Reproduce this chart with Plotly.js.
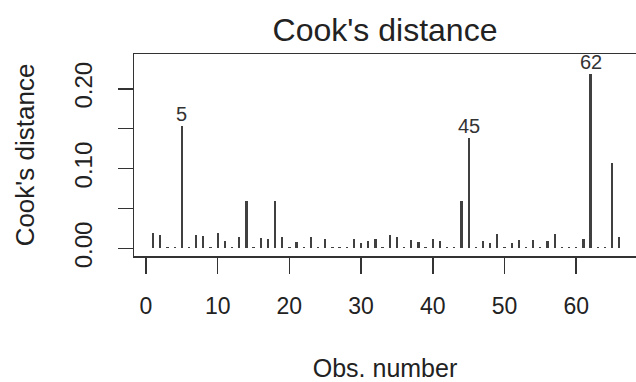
<!DOCTYPE html>
<html>
<head>
<meta charset="utf-8">
<script src="https://cdn.plot.ly/plotly-3.0.1.min.js"></script>
<style>html,body{margin:0;padding:0;background:#fff;}#chart{width:636px;height:382px;}</style>
</head>
<body>
<div id="chart"></div>
<script>
const obs = [];
for (let i = 1; i <= 66; i++) obs.push(i);
const cook = [
  0.019, 0.0165, 0.002, 0.002, 0.153, 0.002, 0.017, 0.0155, 0.002, 0.019,
  0.009, 0.002, 0.014, 0.0595, 0.002, 0.013, 0.012, 0.0595, 0.014, 0.002,
  0.008, 0.002, 0.0145, 0.002, 0.012, 0.002, 0.002, 0.002, 0.012, 0.007,
  0.010, 0.012, 0.002, 0.017, 0.015, 0.002, 0.011, 0.008, 0.002, 0.012,
  0.010, 0.002, 0.002, 0.0595, 0.139, 0.002, 0.009, 0.007, 0.0185, 0.002,
  0.0065, 0.011, 0.002, 0.0105, 0.002, 0.009, 0.0185, 0.002, 0.002, 0.002,
  0.012, 0.219, 0.002, 0.002, 0.107, 0.0145
];
const labelledObs = [5, 45, 62];
const xTickVals = [0, 10, 20, 30, 40, 50, 60];
const xTickText = ['0', '10', '20', '30', '40', '50', '60'];
const yTickVals = [0, 0.05, 0.10, 0.15, 0.20];
const yTickText = ['0.00', '', '0.10', '', '0.20'];

const ink = '#333333';
const font = 'Liberation Sans, Arial, sans-serif';

const trace = {
  type: 'bar',
  x: obs,
  y: cook,
  width: 0.32,
  marker: {color: '#404040', line: {width: 0}},
  hoverinfo: 'x+y',
  showlegend: false
};

const annotations = labelledObs.map(k => ({
  x: k, y: cook[k - 1], xref: 'x', yref: 'y',
  text: String(k), showarrow: false,
  yanchor: 'middle', yshift: 12,
  font: {family: font, size: 20, color: ink}
}));

const layout = {
  width: 636, height: 382,
  margin: {l: 134, r: 0, t: 54, b: 126, pad: 0},
  paper_bgcolor: '#fff', plot_bgcolor: '#fff',
  title: {
    text: "Cook's distance",
    font: {family: font, size: 32, color: '#222'},
    xref: 'paper', x: 0.5, xanchor: 'center',
    yref: 'container', y: 1 - 30 / 382, yanchor: 'middle'
  },
  xaxis: {
    range: [-1.67, 68.34],
    showgrid: false, zeroline: false,
    showline: true, linecolor: ink, linewidth: 1.5, mirror: true,
    ticks: 'outside', ticklen: 16, tickwidth: 1.5, tickcolor: ink,
    tickvals: xTickVals, ticktext: xTickText,
    ticklabelstandoff: 13,
    tickfont: {family: font, size: 23, color: '#222'},
    title: {text: 'Obs. number', font: {family: font, size: 25, color: '#222'}, standoff: 48}
  },
  yaxis: {
    range: [-0.0094, 0.2436],
    showgrid: false, zeroline: false,
    showline: true, linecolor: ink, linewidth: 1.5, mirror: false,
    ticks: 'outside', ticklen: 15, tickwidth: 1.5, tickcolor: ink,
    tickvals: yTickVals, ticktext: yTickText,
    tickangle: -90,
    ticklabelstandoff: 16,
    tickfont: {family: font, size: 24, color: '#222'},
    title: {text: "Cook's distance", font: {family: font, size: 26, color: '#222'}, standoff: 28}
  },
  annotations: annotations,
  bargap: 0
};

Plotly.newPlot('chart', [trace], layout, {displayModeBar: false, staticPlot: true});
</script>
</body>
</html>
